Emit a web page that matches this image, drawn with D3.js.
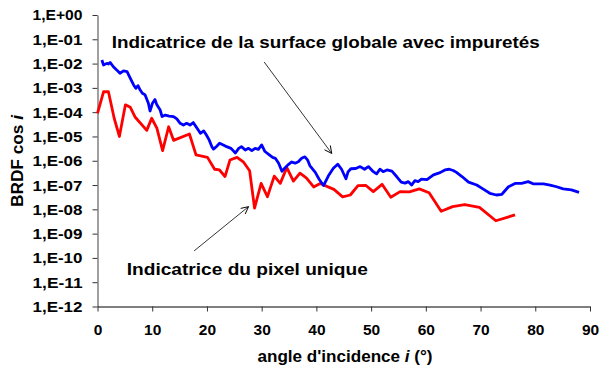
<!DOCTYPE html>
<html>
<head>
<meta charset="utf-8">
<script src="https://cdn.jsdelivr.net/npm/d3@7/dist/d3.min.js"></script>
<style>
  html, body { margin: 0; padding: 0; background: #fff; }
  svg text { font-family: "Liberation Sans", Arial, sans-serif; font-weight: bold; fill: #000; }
</style>
</head>
<body>
<svg id="chart" width="610" height="376"></svg>
<script>
// Surface globale avec impuretés : angle (°) et BRDF·cos i
const globalAngles = [0.8, 1.1, 1.7, 2.0, 2.3, 2.9, 3.5, 4.1, 4.75, 5.4, 6.0, 6.6, 7.0, 7.4, 7.8, 8.2, 8.7, 9.3, 9.6, 10.05,
  10.5, 10.85, 11.45, 11.8, 12.4, 13.1, 13.9, 14.5, 15.1, 15.7, 16.3, 16.9, 17.5, 18.2, 18.8, 19.4, 19.9, 20.4, 20.9, 21.2,
  21.8, 22.3, 23.0, 23.6, 24.4, 25.2, 25.8, 26.3, 27.0, 27.6, 28.2, 28.8, 29.4, 30.0, 30.6, 31.4, 32.0, 32.5, 33.1, 33.7,
  34.2, 34.8, 35.5, 36.1, 36.7, 37.3, 37.9, 38.4, 38.8, 39.8, 40.5, 41.3, 42.2, 43.1, 43.9, 44.6, 45.4, 45.8, 46.3, 47.2,
  48.0, 48.8, 49.5, 50.4, 51.0, 51.6, 52.2, 52.9, 53.8, 54.7, 55.5, 56.2, 56.8, 57.4, 58.0, 58.6, 59.2, 60.2, 61.4, 62.6,
  63.5, 64.3, 65.0, 65.6, 66.6, 67.8, 69.3, 70.5, 71.7, 72.9, 73.9, 75.1, 76.3, 77.5, 78.7, 79.6, 81.5, 82.7, 83.9, 85.1,
  86.6, 88.0];
const globalBrdf = [1.41e-2, 8.71e-3, 1.02e-2, 9.55e-3, 1.12e-2, 7.41e-3, 5.50e-3, 3.98e-3, 5.01e-3, 4.68e-3,
  2.45e-3, 1.32e-3, 9.55e-4, 1.23e-3, 8.13e-4, 6.03e-4, 5.13e-4, 2.34e-4, 1.12e-4, 2.34e-4,
  3.31e-4, 2.00e-4, 1.23e-4, 6.61e-5, 7.59e-5, 6.92e-5, 6.61e-5, 5.25e-5, 3.47e-5, 2.95e-5,
  3.47e-5, 2.95e-5, 3.72e-5, 2.19e-5, 1.35e-5, 1.70e-5, 1.15e-5, 7.24e-6, 3.80e-6, 3.02e-6,
  3.98e-6, 5.25e-6, 4.47e-6, 3.80e-6, 3.24e-6, 2.09e-6, 3.24e-6, 3.80e-6, 2.75e-6, 3.24e-6,
  2.63e-6, 3.24e-6, 2.95e-6, 4.47e-6, 2.40e-6, 1.74e-6, 1.38e-6, 1.26e-6, 7.94e-7, 3.72e-7,
  4.90e-7, 6.76e-7, 8.91e-7, 7.94e-7, 9.12e-7, 1.26e-6, 1.45e-6, 1.07e-6, 6.31e-7, 3.31e-7,
  1.74e-7, 9.55e-8, 2.40e-7, 4.90e-7, 7.24e-7, 4.47e-7, 1.82e-7, 3.55e-7, 4.68e-7, 4.79e-7,
  5.75e-7, 4.47e-7, 5.75e-7, 3.55e-7, 2.88e-7, 4.47e-7, 3.55e-7, 4.17e-7, 3.72e-7, 2.19e-7,
  1.32e-7, 1.20e-7, 1.38e-7, 1.00e-7, 1.51e-7, 1.38e-7, 1.74e-7, 1.66e-7, 2.63e-7, 3.24e-7,
  4.17e-7, 4.47e-7, 3.98e-7, 3.31e-7, 2.24e-7, 1.32e-7, 1.00e-7, 6.76e-8, 4.57e-8, 3.89e-8,
  4.17e-8, 8.51e-8, 1.17e-7, 1.17e-7, 1.38e-7, 1.12e-7, 1.12e-7, 1.00e-7, 8.51e-8, 6.92e-8,
  6.31e-8, 5.01e-8];

// Pixel unique : angle (°) et BRDF·cos i
const pixelAngles = [0, 1.1, 2.0, 3.05, 4.0, 5.1, 6.0, 6.9, 9.0, 9.9, 10.85, 11.9, 13.0, 13.9, 16.8, 18.0, 20.1, 21.4,
  22.3, 23.3, 24.2, 25.5, 26.7, 27.8, 28.7, 29.9, 31.05, 32.3, 33.4, 34.6, 35.8, 37.0, 38.2, 39.5, 40.7, 43.2, 44.8,
  46.2, 47.6, 49.0, 50.4, 52.0, 53.6, 55.3, 57.0, 58.8, 60.6, 62.8, 64.9, 67.1, 69.8, 72.8, 76.3];
const pixelBrdf = [8.91e-5, 6.92e-4, 6.92e-4, 5.62e-5, 1.00e-5, 2.00e-4, 1.58e-4, 6.17e-5, 1.78e-5, 5.62e-5,
  2.19e-5, 2.63e-6, 2.51e-5, 6.92e-6, 1.26e-5, 1.74e-6, 1.38e-6, 4.47e-7, 4.17e-7, 2.24e-7,
  1.07e-6, 1.38e-6, 8.71e-7, 3.89e-7, 1.12e-8, 1.17e-7, 3.31e-8, 2.34e-7, 1.17e-7, 5.25e-7,
  1.45e-7, 3.09e-7, 1.91e-7, 8.32e-8, 1.15e-7, 6.61e-8, 3.24e-8, 3.89e-8, 9.55e-8, 9.77e-8,
  5.37e-8, 1.07e-7, 3.16e-8, 5.37e-8, 5.25e-8, 6.92e-8, 4.79e-8, 8.32e-9, 1.29e-8, 1.58e-8,
  1.20e-8, 3.39e-9, 5.89e-9];

// Axis ticks
const xTicks = [0, 10, 20, 30, 40, 50, 60, 70, 80, 90];
const yTicks = [1e0, 1e-1, 1e-2, 1e-3, 1e-4, 1e-5, 1e-6, 1e-7, 1e-8, 1e-9, 1e-10, 1e-11, 1e-12];
const yTickLabels = ["1,E+00", "1,E-01", "1,E-02", "1,E-03", "1,E-04", "1,E-05", "1,E-06",
  "1,E-07", "1,E-08", "1,E-09", "1,E-10", "1,E-11", "1,E-12"];

// Annotations (angle, BRDF) : label anchors and arrows
const labelGlobal = { text: "Indicatrice de la surface globale avec impuretés", angle: 2.6, value: 4.2e-2, width: 428 };
const labelPixel = { text: "Indicatrice du pixel unique", angle: 5.35, value: 2.0e-11, width: 241 };
const arrows = [
  { from: [30.45, 1.17e-2], to: [42.8, 2.0e-6] },
  { from: [17.66, 1.95e-10], to: [27.6, 1.29e-8] }
];

const svg = d3.select("#chart");
const x = d3.scaleLinear().domain([0, 90]).range([97.5, 590]);
const y = d3.scaleLog().domain([1e0, 1e-12]).range([15, 306.5]);

// Y axis
const yAxis = svg.append("g")
  .attr("transform", `translate(${x(0)},0)`)
  .call(d3.axisLeft(y).tickValues(yTicks).tickSize(5).tickSizeOuter(0).tickPadding(10)
    .tickFormat((d, i) => yTickLabels[i]));
yAxis.select(".domain").attr("stroke", "#808080").attr("stroke-width", 1.5);
yAxis.selectAll(".tick line").attr("stroke", "#333");
yAxis.selectAll(".tick text").style("font-size", "15.5px").attr("fill", "#000")
  .attr("textLength", 50).attr("lengthAdjust", "spacingAndGlyphs");

// X axis
const xAxis = svg.append("g")
  .attr("transform", `translate(0,${y(1e-12)})`)
  .call(d3.axisBottom(x).tickValues(xTicks).tickSize(5).tickSizeOuter(0).tickPadding(12));
xAxis.select(".domain").attr("stroke", "#000");
xAxis.selectAll(".tick line").attr("stroke", "#333");
xAxis.selectAll(".tick text").style("font-size", "15.5px").attr("fill", "#000");

// Axis titles
const yTitle = svg.append("text")
  .attr("transform", "translate(23,161) rotate(-90)")
  .attr("text-anchor", "middle")
  .attr("textLength", 92).attr("lengthAdjust", "spacingAndGlyphs")
  .style("font-size", "16px");
yTitle.append("tspan").text("BRDF cos ");
yTitle.append("tspan").style("font-style", "italic").text("i");

const xTitle = svg.append("text")
  .attr("x", 345).attr("y", 362)
  .attr("text-anchor", "middle")
  .attr("textLength", 175).attr("lengthAdjust", "spacingAndGlyphs")
  .style("font-size", "16px");
xTitle.append("tspan").text("angle d'incidence ");
xTitle.append("tspan").style("font-style", "italic").text("i");
xTitle.append("tspan").text(" (°)");

// Series lines
const line = d3.line().x(d => x(d[0])).y(d => y(d[1]));
svg.append("path")
  .datum(pixelAngles.map((a, i) => [a, pixelBrdf[i]]))
  .attr("fill", "none").attr("stroke", "#ff0000").attr("stroke-width", 2.8)
  .attr("stroke-linejoin", "round").attr("d", line);
svg.append("path")
  .datum(globalAngles.map((a, i) => [a, globalBrdf[i]]))
  .attr("fill", "none").attr("stroke", "#0000ff").attr("stroke-width", 2.8)
  .attr("stroke-linejoin", "round").attr("d", line);

// Arrows
svg.append("defs").append("marker")
  .attr("id", "open-head")
  .attr("viewBox", "0 0 10 10").attr("refX", 9).attr("refY", 5)
  .attr("markerWidth", 9).attr("markerHeight", 9).attr("markerUnits", "userSpaceOnUse")
  .attr("orient", "auto")
  .append("path").attr("d", "M1,1 L9,5 L1,9")
  .attr("fill", "none").attr("stroke", "#000").attr("stroke-width", 1);
svg.selectAll("line.arrow").data(arrows).enter().append("line")
  .attr("class", "arrow")
  .attr("x1", d => x(d.from[0])).attr("y1", d => y(d.from[1]))
  .attr("x2", d => x(d.to[0])).attr("y2", d => y(d.to[1]))
  .attr("stroke", "#000").attr("stroke-width", 0.8)
  .attr("marker-end", "url(#open-head)");

// Annotation labels
[labelGlobal, labelPixel].forEach(l => {
  svg.append("text")
    .attr("x", x(l.angle)).attr("y", y(l.value))
    .attr("textLength", l.width).attr("lengthAdjust", "spacingAndGlyphs")
    .style("font-size", "17px")
    .text(l.text);
});
</script>
</body>
</html>
